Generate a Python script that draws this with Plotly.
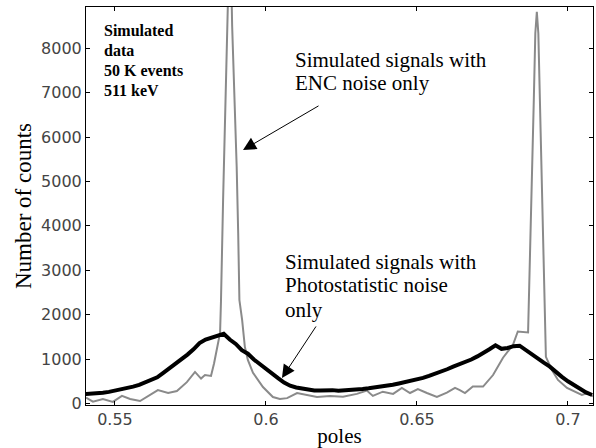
import plotly.graph_objects as go

# Pole-position histogram, photostatistic noise only (thick black)
photo_x = [0.540, 0.542, 0.544, 0.546, 0.548, 0.550, 0.552, 0.554, 0.556, 0.558,
           0.560, 0.562, 0.564, 0.566, 0.568, 0.570, 0.572, 0.574, 0.576, 0.578,
           0.580, 0.582, 0.584, 0.586, 0.588, 0.590, 0.592, 0.594, 0.596, 0.598,
           0.600, 0.602, 0.604, 0.606, 0.608, 0.610, 0.612, 0.614, 0.616, 0.618,
           0.620, 0.622, 0.624, 0.626, 0.628, 0.630, 0.632, 0.634, 0.636, 0.638,
           0.640, 0.642, 0.644, 0.646, 0.648, 0.650, 0.652, 0.654, 0.656, 0.658,
           0.660, 0.662, 0.664, 0.666, 0.668, 0.670, 0.672, 0.674, 0.676, 0.678,
           0.680, 0.682, 0.684, 0.686, 0.688, 0.690, 0.692, 0.694, 0.696, 0.698,
           0.700, 0.702, 0.704, 0.706, 0.708]
photo_y = [210, 215, 225, 240, 260, 285, 310, 350, 380, 420,
           470, 520, 590, 690, 790, 890, 990, 1100, 1220, 1360,
           1440, 1480, 1510, 1570, 1440, 1340, 1200, 1120, 990, 880,
           770, 660, 570, 470, 400, 360, 330, 300, 290, 290,
           300, 300, 285, 290, 300, 310, 325, 340, 355, 370,
           390, 420, 450, 480, 510, 530, 575, 620, 665, 720,
           770, 830, 880, 930, 990, 1060, 1130, 1220, 1310, 1230,
           1250, 1290, 1300, 1200, 1100, 1000, 920, 830, 700, 600,
           500, 410, 320, 250, 190]

# Pole-position histogram, ENC noise only (grey)
enc_x = [0.5404, 0.5427, 0.5460, 0.5493, 0.5523, 0.5550, 0.5583, 0.5606, 0.5642, 0.5676,
         0.5705, 0.5738, 0.5765, 0.5785, 0.5798, 0.5818, 0.5828, 0.5848, 0.5851, 0.5858,
         0.5864, 0.5868, 0.5874, 0.5881, 0.5888, 0.5894, 0.5903, 0.5908, 0.5912, 0.5921,
         0.5930, 0.5940,
         0.5957, 0.5990, 0.6023, 0.6046, 0.6070, 0.6103, 0.6136, 0.6169, 0.6212, 0.6255,
         0.6301, 0.6334, 0.6354, 0.6387, 0.6421, 0.6450, 0.6477, 0.6503, 0.6533, 0.6566,
         0.6599, 0.6626, 0.6642, 0.6659, 0.6685, 0.6719, 0.6752, 0.6785, 0.6818, 0.6834,
         0.6868, 0.6874, 0.6878, 0.6887, 0.6892, 0.6897, 0.6902, 0.6907, 0.6916, 0.6924,
         0.6927,
         0.6947, 0.6967, 0.6997, 0.7023, 0.7046, 0.7066, 0.7083]
enc_y = [130, 40, 100, 35, 170, 100, 55, 145, 300, 235,
         280, 480, 710, 560, 640, 620, 900, 1590, 2300, 4580,
         6100, 7400, 8500, 11000, 8500, 7350, 5330, 3840, 2330, 1880,
         1280, 980,
         690, 370, 145, 100, 120, 235, 190, 145, 170, 150,
         215, 290, 170, 265, 215, 350, 235, 325, 235, 145,
         245, 350, 300, 235, 380, 380, 640, 1030, 1320, 1620,
         1600, 3080, 4580, 6840, 8340, 8820, 8340, 6840, 4580, 1810,
         1050,
         755, 530, 350, 260, 190, 235, 160]

x_ticks = [0.55, 0.60, 0.65, 0.70]
x_tick_text = ["0.55", "0.6", "0.65", "0.7"]
y_ticks = [0, 1000, 2000, 3000, 4000, 5000, 6000, 7000, 8000]

info_lines = ["Simulated", "data", "50 K events", "511 keV"]
info_y = [8411, 7961, 7511, 7060]
enc_lines = ["Simulated signals with", "ENC noise only"]
enc_text_y = [7736, 7218]
photo_lines = ["Simulated signals with", "Photostatistic noise", "only"]
photo_text_y = [3193, 2669, 2106]

SERIF = "Liberation Serif, Times New Roman, serif"

fig = go.Figure()
fig.add_trace(go.Scatter(x=enc_x, y=enc_y, mode="lines",
                         line=dict(color="#8a8a8a", width=2), showlegend=False))
fig.add_trace(go.Scatter(x=photo_x, y=photo_y, mode="lines",
                         line=dict(color="#000000", width=4), showlegend=False))

annotations = []
for txt, yy in zip(info_lines, info_y):
    annotations.append(dict(x=0.5457, y=yy, xref="x", yref="y", text=f"<b>{txt}</b>",
                            showarrow=False, xanchor="left", yanchor="middle",
                            font=dict(family=SERIF, size=16, color="#000")))
for txt, yy in zip(enc_lines, enc_text_y):
    annotations.append(dict(x=0.6089, y=yy, xref="x", yref="y", text=txt,
                            showarrow=False, xanchor="left", yanchor="middle",
                            font=dict(family=SERIF, size=21, color="#000")))
for txt, yy in zip(photo_lines, photo_text_y):
    annotations.append(dict(x=0.6056, y=yy, xref="x", yref="y", text=txt,
                            showarrow=False, xanchor="left", yanchor="middle",
                            font=dict(family=SERIF, size=21, color="#000")))

# Pointer arrows from the labels to the two curves
annotations.append(dict(x=0.5924, y=5709, xref="x", yref="y", text="",
                        showarrow=True, ax=77, ay=-45, axref="pixel", ayref="pixel",
                        arrowhead=2, arrowsize=2.6, arrowwidth=1, arrowcolor="#000",
                        standoff=0, startstandoff=0))
annotations.append(dict(x=0.6053, y=574, xref="x", yref="y", text="",
                        showarrow=True, ax=35, ay=-53, axref="pixel", ayref="pixel",
                        arrowhead=2, arrowsize=2.6, arrowwidth=1, arrowcolor="#000",
                        standoff=0, startstandoff=0))

fig.update_layout(
    width=596, height=448,
    margin=dict(l=86, r=3, t=7, b=43),
    paper_bgcolor="white", plot_bgcolor="white",
    annotations=annotations,
    xaxis=dict(range=[0.5404, 0.7083], tickvals=x_ticks, ticktext=x_tick_text,
               ticks="inside", ticklen=4, tickcolor="#000", showline=True,
               linecolor="#000", linewidth=1, mirror="ticks", showgrid=False,
               zeroline=False,
               tickfont=dict(family="DejaVu Sans", size=16, color="#444"),
               title=dict(text="poles", standoff=0,
                          font=dict(family=SERIF, size=21, color="#000"))),
    yaxis=dict(range=[-35, 8930], tickvals=y_ticks,
               ticks="inside", ticklen=4, tickcolor="#000", showline=True,
               linecolor="#000", linewidth=1, mirror="ticks", showgrid=False,
               zeroline=False,
               tickfont=dict(family="DejaVu Sans", size=16, color="#444"),
               title=dict(text="Number of counts", standoff=3,
                          font=dict(family=SERIF, size=23, color="#000"))),
)

fig.write_html("out.html")
